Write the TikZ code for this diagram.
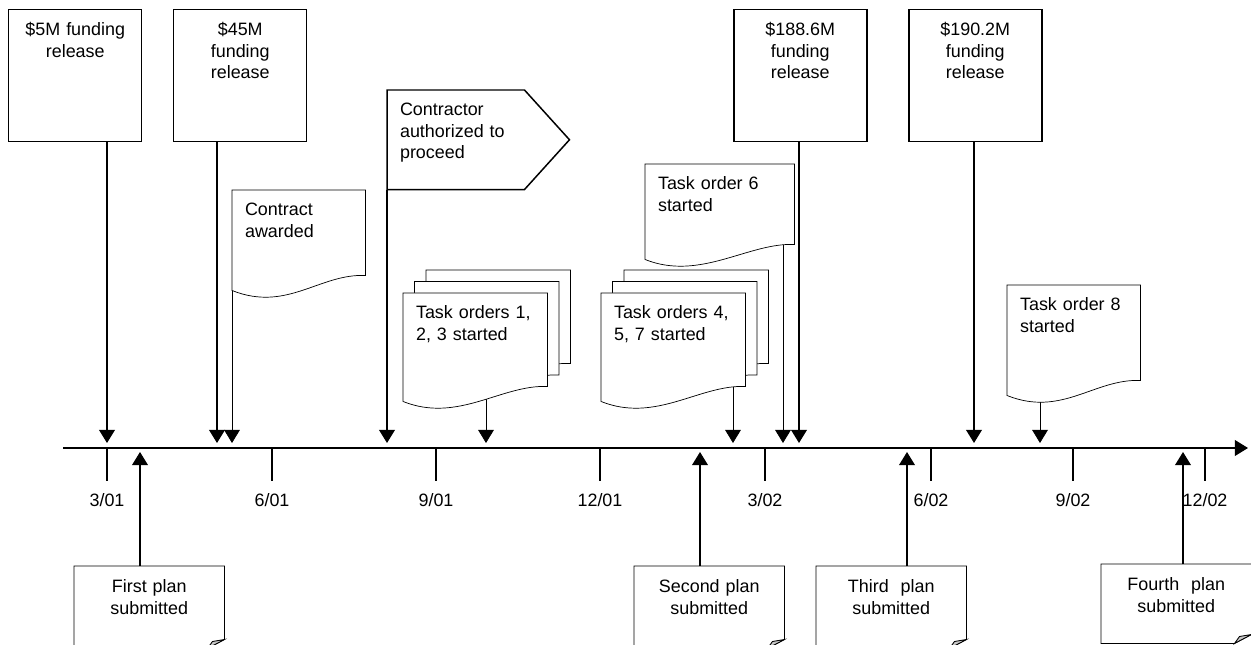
\documentclass[tikz,border=0pt]{standalone}
\usepackage{fontspec}
\setmainfont{Liberation Sans}
\usetikzlibrary{arrows.meta}
\pgfdeclarelayer{background}
\pgfsetlayers{background,main}
%
% Sheet with a wavy lower edge
\newcommand\docsheet[1]{%
  \draw[sheet] (#1.north west) -- (#1.north east) -- (#1.south east)
    .. controls +(-46,-2) and +(55,22) .. ([yshift=-0.3cm]#1.south west) -- cycle;}
%
% Sheet with a folded corner
\newcommand\plansheet[1]{%
  \draw[sheet] (#1.north west) -- (#1.north east) -- ([yshift=0.18cm]#1.south east)
    -- ([xshift=-0.34cm]#1.south east) -- (#1.south west) -- cycle;
  \draw[fold] ([xshift=-0.34cm]#1.south east) -- ([yshift=0.18cm]#1.south east)
    -- ([xshift=-0.24cm,yshift=0.14cm]#1.south east) -- cycle;}

\begin{document}
\begin{tikzpicture}[x=0.02cm,y=-0.02cm,line width=0.85pt,
    every node/.style={font=\fontsize{10.2}{12.3}\selectfont},
    sheet/.style={draw,fill=white},
    fold/.style={draw,fill=black!22,line width=0.5pt},
    evt/.style={-{Triangle[width=9pt,length=7.5pt]}},
    fundbox/.style={draw,anchor=north west,text width=67.7pt,align=center,
      inner xsep=4pt,inner ysep=4pt,text height=10.8pt,text depth=56.3pt},
    docbox/.style={anchor=north west,align=left,inner xsep=7pt,inner ysep=4pt,
      text height=10.2pt},
    planbox/.style={anchor=north west,text width=76.8pt,align=center,
      inner xsep=4pt,inner ysep=4pt,text height=10.8pt}]%{{{
\useasboundingbox (0,0) rectangle (1251,645);
\clip (0,0) rectangle (1251,645);
%
% Time axis
\coordinate (tl0) at (63,448);
\coordinate (tl1) at (1248,448);
\draw[evt] (tl0) -- (tl1);
\foreach \x/\d [count=\i] in {107/{3/01},272/{6/01},436/{9/01},600/{12/01},
                             765/{3/02},931/{6/02},1073/{9/02},1205/{12/02}}
  {\draw (\x,448) -- (\x,481);
   \node[anchor=base] (d\i) at (\x,506) {\d};}
%
% Points on the axis
\coordinate (e5)   at (107,443);
\coordinate (e45)  at (217,443);
\coordinate (eaw)  at (232,443);
\coordinate (ecap) at (387,443);
\coordinate (e123) at (486,443);
\coordinate (e457) at (733,443);
\coordinate (e6)   at (783,443);
\coordinate (e188) at (799,443);
\coordinate (e190) at (974,443);
\coordinate (e8)   at (1040,443);
\coordinate (p1) at (140,452);
\coordinate (p2) at (700,452);
\coordinate (p3) at (907,452);
\coordinate (p4) at (1183,452);
%
% Funding releases
\node[fundbox] (f5)   at (8,9)   {\$5M funding\\release};
\node[fundbox] (f45)  at (173,9) {\$45M\\funding\\release};
\node[fundbox] (f188) at (733,9) {\$188.6M\\funding\\release};
\node[fundbox] (f190) at (908,9) {\$190.2M\\funding\\release};
\draw[evt] (f5.south -| e5) -- (e5);
\draw[evt] (f45.south -| e45) -- (e45);
\draw[evt] (f188.south -| e188) -- (e188);
\draw[evt] (f190.south -| e190) -- (e190);
%
% Contractor authorized
\node[docbox,text width=63.4pt,text depth=37.6pt] (cap) at (387,90)
  {Contractor\\authorized to\\proceed};
\draw (cap.north west) -- (cap.north east) -- ([xshift=0.9cm]cap.east)
   -- (cap.south east) -- (cap.south west) -- cycle;
\draw[evt] (cap.south west) -- (ecap);
%
% Contract and task orders
\node[docbox,text width=61.1pt,text depth=29.6pt] (award) at (232,190) {Contract\\awarded};
\node[docbox,text width=70.2pt,text depth=26.75pt] (to6) at (645,164) {Task order 6\\started};
\node[docbox,text width=67.4pt,text depth=34.15pt] (to123c) at (426,270) {};
\node[docbox,text width=67.4pt,text depth=34.15pt] (to123b) at (414.5,281.5) {};
\node[docbox,text width=67.4pt,text depth=34.15pt] (to123) at (403,293) {Task orders 1,\\2, 3 started};
\node[docbox,text width=67.4pt,text depth=34.15pt] (to457c) at (624,270) {};
\node[docbox,text width=67.4pt,text depth=34.15pt] (to457b) at (612.5,281.5) {};
\node[docbox,text width=67.4pt,text depth=34.15pt] (to457) at (601,293) {Task orders 4,\\5, 7 started};
\node[docbox,text width=61.1pt,text depth=35.3pt] (to8) at (1007,285) {Task order 8\\started};
%
% Plans submitted
\node[planbox,text depth=27.3pt] (plan1) at (74,566)  {First plan\\submitted};
\node[planbox,text depth=27.3pt] (plan2) at (634,566) {Second plan\\submitted};
\node[planbox,text depth=27.3pt] (plan3) at (816,566) {Third~~plan\\submitted};
\node[planbox,text depth=25.6pt] (plan4) at (1101,564) {Fourth~~plan\\submitted};
\draw[evt] (plan1.north -| p1) -- (p1);
\draw[evt] (plan2.north -| p2) -- (p2);
\draw[evt] (plan3.north -| p3) -- (p3);
\draw[evt] (plan4.north -| p4) -- (p4);
%
% Sheets behind the texts
\begin{pgfonlayer}{background}
\draw[evt] (award.south west) -- (eaw);
\draw[evt] (to6.south -| e6) -- (e6);
\draw[evt] (to123.south -| e123) -- (e123);
\draw[evt] (to457.south -| e457) -- (e457);
\draw[evt] (to8.south -| e8) -- (e8);
\docsheet{award}
\docsheet{to6}
\docsheet{to123c} \docsheet{to123b} \docsheet{to123}
\docsheet{to457c} \docsheet{to457b} \docsheet{to457}
\docsheet{to8}
\plansheet{plan1}
\plansheet{plan2}
\plansheet{plan3}
\plansheet{plan4}
\end{pgfonlayer}
%
\end{tikzpicture}%}}}
\end{document}
